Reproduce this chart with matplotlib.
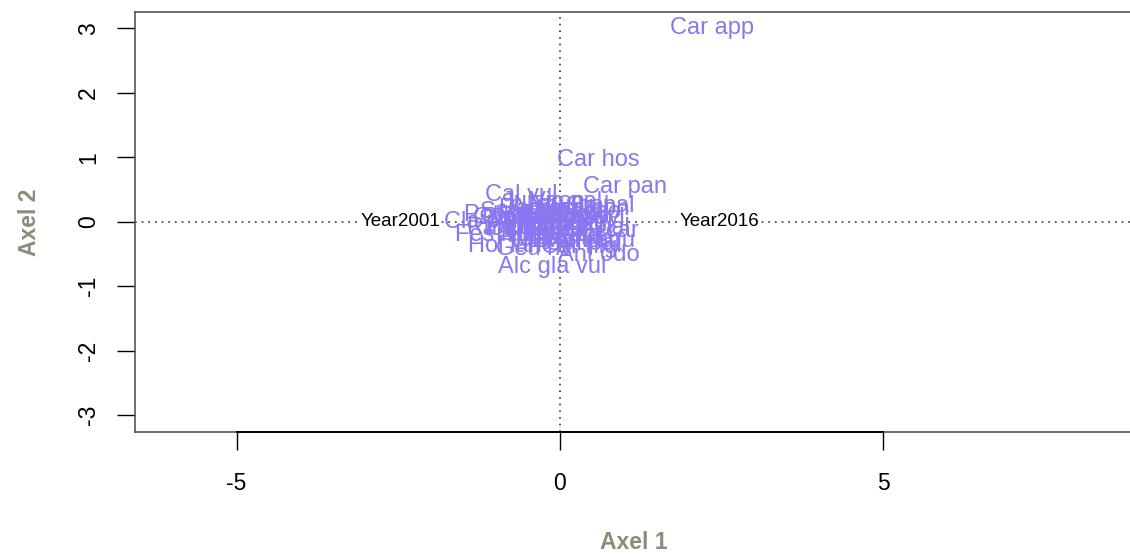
import matplotlib
matplotlib.use("Agg")
import matplotlib.pyplot as plt

plt.rcParams['font.family'] = ['Liberation Sans', 'DejaVu Sans']

# Supplementary (year) points
year_labels = ["Year2001", "Year2016"]
year_x = [-2.47, 2.47]
year_y = [0.0, 0.0]

# Species scores (axis 1, axis 2)
species = ["Car app", "Car hos", "Car pan", "Cal vul", "Alc gla vul", "Cir pal",
           "Cre pal", "Pot ere", "Cla por", "Fes rub", "Hol lan", "Geu riv",
           "Sel car", "Ant odo", "Vio pal", "Ran acr", "Luz mul", "Lot cor",
           "Agr cap", "Bri med", "Des ces", "Mol cae", "Suc pra", "Gal pal",
           "Fil ulm", "Equ pal", "Jun con", "Leo aut", "Pla lan", "Pru vul",
           "Tri pra", "Ach mil", "Ang syl", "Lyc flo", "Men aqu", "Pot pal",
           "Ran fla", "Cal pal", "Car nig", "Car ech", "Eri ang", "Nar str",
           "Par pal", "Val dio", "Dac maj", "Gym con", "Hyp mac", "Rum ace"]
ax1 = [2.35, 0.6, 1.0, -0.6, -0.12, 0.62,
       -0.75, -0.9, -1.2, -1.0, -0.85, -0.4,
       0.65, 0.6, 0.1, -0.3, -0.2, 0.0,
       -0.5, 0.2, -0.1, 0.3, -0.6, 0.35,
       -0.45, 0.15, -0.25, 0.05, -0.65, 0.25,
       -0.35, -0.15, 0.4, 0.1, 0.45, 0.2,
       -0.05, -0.55, 0.3, -0.3, 0.15, -0.2,
       0.5, -0.4, 0.0, 0.35, -0.1, -0.7]
ax2 = [3.0, 0.96, 0.53, 0.42, -0.7, 0.25,
       0.05, 0.1, 0.0, -0.2, -0.38, -0.42,
       -0.15, -0.52, 0.3, 0.2, -0.1, 0.1,
       -0.05, -0.3, 0.05, 0.15, 0.15, -0.35,
       -0.25, 0.25, 0.3, -0.2, 0.05, -0.05,
       -0.15, 0.2, 0.05, -0.25, -0.3, 0.1,
       -0.05, -0.12, -0.4, 0.0, 0.0, -0.3,
       -0.1, 0.1, 0.05, 0.2, -0.2, -0.1]

label_color = "#8877ee"
axis_title_color = "#8c8c78"

fig = plt.figure(figsize=(11.30, 5.58), dpi=100)
ax = fig.add_axes([135/1130, (558-432)/558, 1.002 - 135/1130, (432-12)/558])

ax.set_xlim(-6.57, 8.85)
ax.set_ylim(-3.26, 3.25)

ax.axhline(0, color="#333333", linestyle=(0, (1, 3)), linewidth=1.2, zorder=1)
ax.axvline(0, color="#333333", linestyle=(0, (1, 3)), linewidth=1.2, zorder=1)

for lab, x, y in zip(year_labels, year_x, year_y):
    ax.text(x, y, lab, ha="center", va="center", fontsize=13.5, color="black",
            bbox=dict(facecolor="white", edgecolor="none", pad=0.5), zorder=2)

for lab, x, y in zip(species, ax1, ax2):
    ax.text(x, y, lab, ha="center", va="center", fontsize=17, color=label_color, zorder=3)

for s in ["top", "bottom", "left", "right"]:
    ax.spines[s].set_color("#555555")
    ax.spines[s].set_linewidth(1.2)

ax.set_xticks([-5, 0, 5])
ax.set_xticklabels(["-5", "0", "5"])
ax.set_yticks([-3, -2, -1, 0, 1, 2, 3])
ax.set_yticklabels(["-3", "-2", "-1", "0", "1", "2", "3"], rotation=90, va="center")
ax.tick_params(axis="x", length=13, width=1, pad=16, labelsize=16.5)
ax.tick_params(axis="y", length=13, width=1, pad=12, labelsize=16.5)

# R-style axis line spanning the ticks
ax.plot([-5, 5], [-3.26, -3.26], color="black", linewidth=1.4, clip_on=False, zorder=5)

ax.set_xlabel("Axel 1", fontsize=16.5, fontweight="bold", color=axis_title_color, labelpad=26)
ax.set_ylabel("Axel 2", fontsize=16.5, fontweight="bold", color=axis_title_color, labelpad=26)

fig.savefig("out.png", dpi=100)
